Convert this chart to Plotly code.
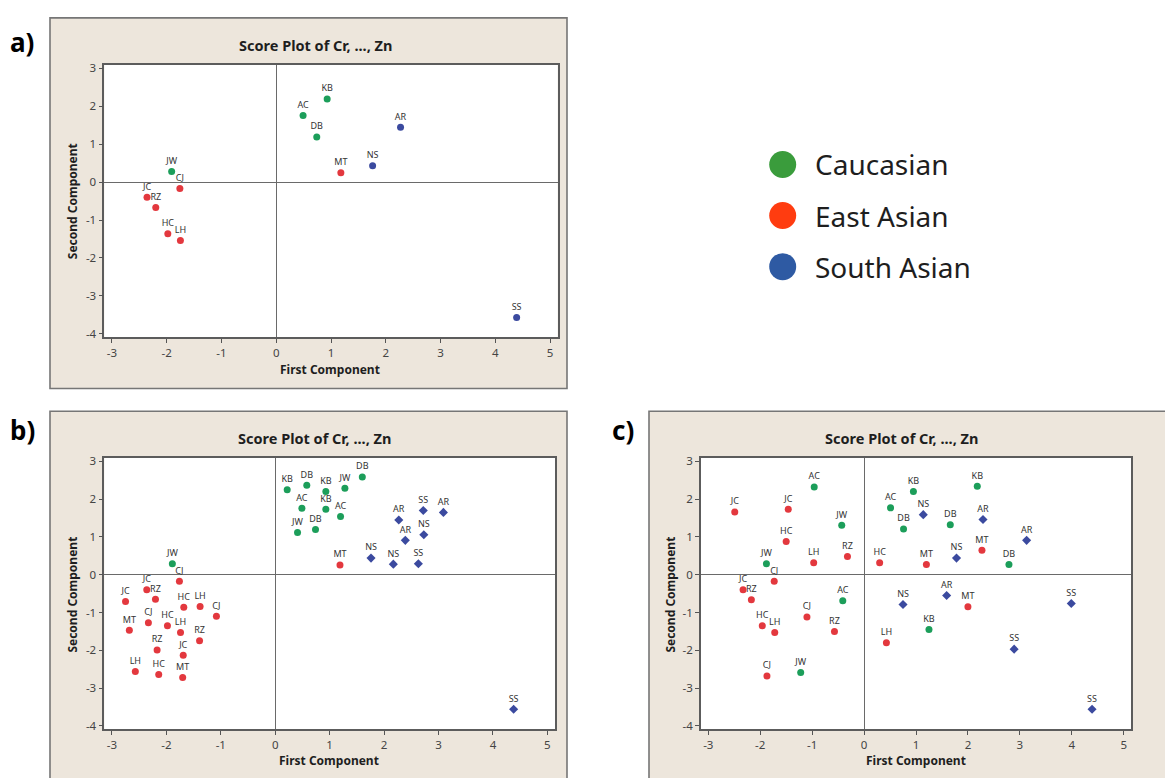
import plotly.graph_objects as go

W, H = 1165, 778

# ---- data -------------------------------------------------------------
groups = ["Caucasian", "East Asian", "South Asian"]

# a) one sample per subject
a_labels = ["KB", "AC", "DB", "JW", "MT", "CJ", "JC", "RZ", "HC", "LH", "AR", "NS", "SS"]
a_group = ["Caucasian"] * 4 + ["East Asian"] * 6 + ["South Asian"] * 3
a_pc1 = [0.93, 0.49, 0.74, -1.91, 1.18, -1.76, -2.36, -2.20, -1.98, -1.75, 2.27, 1.76, 4.39]
a_pc2 = [2.19, 1.76, 1.19, 0.28, 0.25, -0.17, -0.40, -0.67, -1.36, -1.54, 1.45, 0.43, -3.57]

# b) three samples per subject
b_labels = ["KB", "DB", "KB", "JW", "DB", "AC", "KB", "AC", "JW", "DB", "JW",
            "MT", "CJ", "JC", "RZ", "JC", "HC", "LH", "CJ", "MT", "CJ", "HC", "LH",
            "RZ", "RZ", "JC", "LH", "HC", "MT",
            "AR", "SS", "AR", "NS", "AR", "NS", "NS", "SS", "SS"]
b_group = ["Caucasian"] * 11 + ["East Asian"] * 18 + ["South Asian"] * 9
b_pc1 = [0.22, 0.58, 0.93, 1.28, 1.60, 0.49, 0.93, 1.20, 0.41, 0.74, -1.89,
         1.19, -1.76, -2.36, -2.20, -2.75, -1.68, -1.38, -1.08, -2.68, -2.33, -1.98, -1.74,
         -1.39, -2.17, -1.69, -2.57, -2.14, -1.70,
         2.27, 2.72, 3.09, 2.73, 2.39, 1.76, 2.17, 2.63, 4.38]
b_pc2 = [2.25, 2.37, 2.20, 2.29, 2.59, 1.76, 1.73, 1.54, 1.12, 1.20, 0.29,
         0.26, -0.17, -0.40, -0.65, -0.71, -0.86, -0.84, -1.10, -1.47, -1.27, -1.35, -1.53,
         -1.75, -1.99, -2.13, -2.56, -2.64, -2.72,
         1.45, 1.70, 1.65, 1.06, 0.91, 0.44, 0.28, 0.29, -3.56]

# c) three samples per subject, second sample set
c_labels = ["AC", "JW", "JW", "AC", "JW", "KB", "AC", "DB", "DB", "KB", "DB", "KB",
            "JC", "JC", "HC", "LH", "RZ", "HC", "MT", "MT", "CJ", "JC", "RZ", "CJ",
            "HC", "LH", "RZ", "CJ", "LH", "MT",
            "NS", "AR", "AR", "NS", "NS", "AR", "SS", "SS", "SS"]
c_group = ["Caucasian"] * 12 + ["East Asian"] * 18 + ["South Asian"] * 9
c_pc1 = [-0.96, -0.43, -1.88, -0.41, -1.22, 0.95, 0.51, 0.76, 1.66, 2.18, 2.79, 1.25,
         -2.49, -1.46, -1.50, -0.97, -0.32, 0.30, 1.20, 2.27, -1.73, -2.33, -2.17, -1.10,
         -1.96, -1.72, -0.57, -1.87, 0.43, 2.00,
         1.14, 2.29, 3.13, 1.78, 0.75, 1.59, 3.99, 2.89, 4.39]
c_pc2 = [2.32, 1.31, 0.29, -0.69, -2.59, 2.20, 1.77, 1.21, 1.32, 2.34, 0.27, -1.45,
         1.66, 1.73, 0.88, 0.32, 0.48, 0.32, 0.27, 0.65, -0.17, -0.40, -0.66, -1.12,
         -1.35, -1.53, -1.50, -2.68, -1.80, -0.85,
         1.59, 1.46, 0.91, 0.44, -0.79, -0.55, -0.76, -1.97, -3.56]

# axis tick values and their printed labels (plain hyphen minus)
x_ticks = [-3, -2, -1, 0, 1, 2, 3, 4, 5]
x_ticktext = ["-3", "-2", "-1", "0", "1", "2", "3", "4", "5"]
y_ticks = [-4, -3, -2, -1, 0, 1, 2, 3]
y_ticktext = ["-4", "-3", "-2", "-1", "0", "1", "2", "3"]

# ---- styles -----------------------------------------------------------
point_colors = {"Caucasian": "#1c9e5a", "East Asian": "#e3383e", "South Asian": "#3b4a9f"}
legend_colors = {"Caucasian": "#3a9c3c", "East Asian": "#ff3c10", "South Asian": "#2e5aa3"}
BEIGE = "#ede6dc"
FONT = "Noto Sans"


def px_x(x):
    return x / W


def px_y(y):
    return 1 - y / H


fig = go.Figure()

panels = [
    ("a", a_labels, a_group, a_pc1, a_pc2, "circle"),
    ("b", b_labels, b_group, b_pc1, b_pc2, "diamond"),
    ("c", c_labels, c_group, c_pc1, c_pc2, "diamond"),
]
axis_ids = {"a": ("x", "y"), "b": ("x2", "y2"), "c": ("x3", "y3")}

for key, labels, grp, pc1, pc2, south_symbol in panels:
    xa, ya = axis_ids[key]
    for g in groups:
        idx = [i for i, v in enumerate(grp) if v == g]
        fig.add_trace(go.Scatter(
            x=[pc1[i] for i in idx], y=[pc2[i] for i in idx],
            text=[labels[i] for i in idx],
            mode="markers+text", textposition="top center",
            textfont=dict(family=FONT, size=9, color="#333333"),
            marker=dict(color=point_colors[g], size=7,
                        symbol="circle" if g != "South Asian" else south_symbol),
            xaxis=xa, yaxis=ya, showlegend=False, cliponaxis=False,
        ))

# legend drawn as its own small scatter
fig.add_trace(go.Scatter(
    x=[0, 0, 0], y=[0, 1, 2], mode="markers",
    marker=dict(color=[legend_colors[g] for g in groups], size=27),
    xaxis="x4", yaxis="y4", showlegend=False, hoverinfo="skip",
))

XR = [-3.14, 5.14]
YR = [-4.09, 3.09]


def panel_axis(domain, vals, texts, rng):
    return dict(
        domain=domain, range=rng, showgrid=False, zeroline=True, zerolinecolor="#6a6a6a",
        zerolinewidth=1.3, showline=True, mirror=True, linecolor="#5c5c5c", linewidth=1.6,
        ticks="outside", ticklen=4, tickwidth=1, tickcolor="#555",
        tickmode="array", tickvals=vals, ticktext=texts,
        tickfont=dict(family=FONT, size=11.5, color="#444"),
    )


xa_a = panel_axis([px_x(104.3), px_x(557.7)], x_ticks, x_ticktext, XR)
ya_a = panel_axis([px_y(336), px_y(60.7)], y_ticks, y_ticktext, YR)
xa_b = panel_axis([px_x(104.3), px_x(555)], x_ticks, x_ticktext, XR)
ya_b = panel_axis([px_y(732.7), px_y(458.3)], y_ticks, y_ticktext, YR)
xa_c = panel_axis([px_x(701), px_x(1131)], x_ticks, x_ticktext, XR)
ya_c = panel_axis([px_y(732.7), px_y(458.3)], y_ticks, y_ticktext, YR)

fig.update_layout(
    width=W, height=H, margin=dict(l=0, r=0, t=0, b=0),
    paper_bgcolor="white", plot_bgcolor="rgba(0,0,0,0)",
    xaxis=dict(xa_a, anchor="y"), yaxis=dict(ya_a, anchor="x"),
    xaxis2=dict(xa_b, anchor="y2"), yaxis2=dict(ya_b, anchor="x2"),
    xaxis3=dict(xa_c, anchor="y3"), yaxis3=dict(ya_c, anchor="x3"),
    xaxis4=dict(domain=[px_x(760), px_x(1000)], range=[-22.7, 217.3], visible=False, anchor="y4"),
    yaxis4=dict(domain=[px_y(287), px_y(137)], range=[2.431, -0.47], visible=False, anchor="x4"),
)

shapes = []
# beige frames behind each panel
for x0, y0, x1, y1 in [(50, 13, 567, 388), (50, 411, 567, 800), (649, 411, 1180, 800)]:
    shapes.append(dict(type="rect", xref="paper", yref="paper", layer="below",
                       x0=px_x(x0), x1=px_x(x1), y0=px_y(y1), y1=px_y(y0),
                       fillcolor=BEIGE, line=dict(color="#767676", width=1.6)))
# white data regions
for xa, ya in axis_ids.values():
    shapes.append(dict(type="rect", xref=f"{xa} domain", yref=f"{ya} domain", layer="below",
                       x0=0, x1=1, y0=0, y1=1, fillcolor="white", line=dict(width=0)))
fig.update_layout(shapes=shapes)

ann = []
title_font = dict(family=FONT, size=14.5, color="#1e1e1e")
axis_font = dict(family=FONT, size=12, color="#1e1e1e")
for cx, cy in [(315.5, 40.5), (314, 438), (901.5, 438)]:
    ann.append(dict(text="<b>Score Plot of Cr, ..., Zn</b>", x=px_x(cx), y=px_y(cy),
                    xref="paper", yref="paper", showarrow=False, font=title_font,
                    xanchor="center", yanchor="middle"))
for cx, cy in [(330, 368.5), (329, 764.5), (915.5, 764.5)]:
    ann.append(dict(text="<b>First Component</b>", x=px_x(cx), y=px_y(cy),
                    xref="paper", yref="paper", showarrow=False, font=axis_font,
                    xanchor="center", yanchor="middle", borderpad=0))
for cx, cy in [(72.5, 199), (72.5, 597), (670.5, 597)]:
    ann.append(dict(text="<b>Second Component</b>", x=px_x(cx), y=px_y(cy), textangle=-90,
                    xref="paper", yref="paper", showarrow=False, font=axis_font,
                    xanchor="center", yanchor="middle", borderpad=0))
for txt, cx, cy in [("a)", 22, 37), ("b)", 22, 430), ("c)", 623, 430)]:
    ann.append(dict(text=f"<b>{txt}</b>", x=px_x(cx), y=px_y(cy), xref="paper", yref="paper",
                    showarrow=False, font=dict(family=FONT, size=26, color="black"),
                    xanchor="center", yanchor="middle"))
for i, g in enumerate(groups):
    ann.append(dict(text=g, x=0, y=i, xref="x4", yref="y4", xshift=30, showarrow=False,
                    xanchor="left", yanchor="middle",
                    font=dict(family=FONT, size=28, color="#1e1e1e")))
fig.update_layout(annotations=ann)

fig.write_html("out.html")
